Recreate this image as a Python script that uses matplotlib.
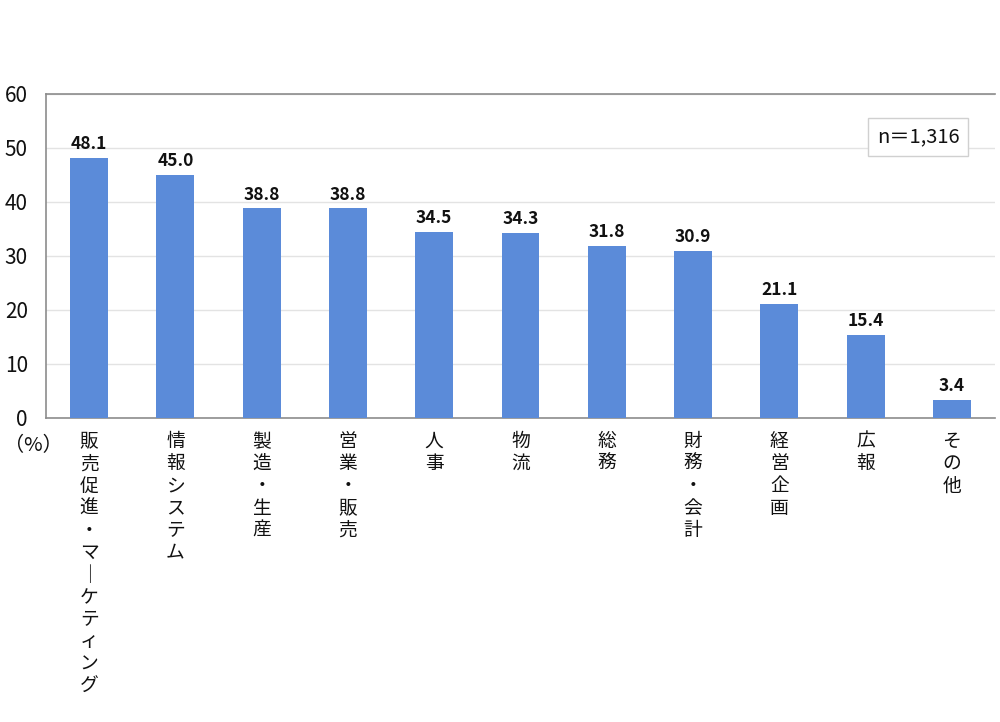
import matplotlib
matplotlib.use("Agg")
import matplotlib.pyplot as plt
import matplotlib.transforms as mtransforms

plt.rcParams['font.family'] = ['Noto Sans CJK JP', 'DejaVu Sans']

categories = ["販売促進・マーケティング", "情報システム", "製造・生産", "営業・販売", "人事",
              "物流", "総務", "財務・会計", "経営企画", "広報", "その他"]
values = [48.1, 45.0, 38.8, 38.8, 34.5, 34.3, 31.8, 30.9, 21.1, 15.4, 3.4]
yticks = [0, 10, 20, 30, 40, 50, 60]
n_label = "n＝1,316"
unit_label = "（%）"

fig = plt.figure(figsize=(10, 7.22), dpi=100)
ax = fig.add_axes([0.046, 0.4211, 0.949, 0.4488])

x = list(range(len(categories)))
ax.bar(x, values, width=0.44, color='#5B8BD9', zorder=3)
for xi, v in zip(x, values):
    ax.text(xi, v + 0.9, f"{v:.1f}", ha='center', va='bottom', fontsize=12.5,
            fontweight='bold', color='#111111', zorder=4)

ax.set_xlim(-0.5, len(categories) - 0.5)
ax.set_ylim(0, 60)
ax.set_yticks(yticks)
ax.set_yticklabels([str(t) for t in yticks], fontsize=15, color='#111111')
ax.tick_params(axis='y', length=0, pad=13)
ax.tick_params(axis='x', length=0)
ax.set_xticks([])
ax.grid(axis='y', color='#e3e3e3', linewidth=1, zorder=0)
for s in ['top', 'left', 'bottom']:
    ax.spines[s].set_color('#8c8c8c')
    ax.spines[s].set_linewidth(1.2)
ax.spines['right'].set_visible(False)

trans = mtransforms.blended_transform_factory(ax.transData, ax.transAxes)
for xi, cat in zip(x, categories):
    disp = "\n".join(cat.replace("ー", "｜"))
    ax.text(xi, -0.04, disp, transform=trans, ha='center', va='top',
            fontsize=13.5, linespacing=1.08, color='#111111')

fig.text(0.033, 0.398, unit_label, ha='center', va='top', fontsize=14.5, color='#111111')

ax.text(0.919, 0.867, n_label, transform=ax.transAxes, ha='center', va='center',
        fontsize=14.5, color='#111111',
        bbox=dict(boxstyle='square,pad=0.42', facecolor='white', edgecolor='#d0d0d0', linewidth=1),
        zorder=5)

fig.savefig("out.png", dpi=100)
